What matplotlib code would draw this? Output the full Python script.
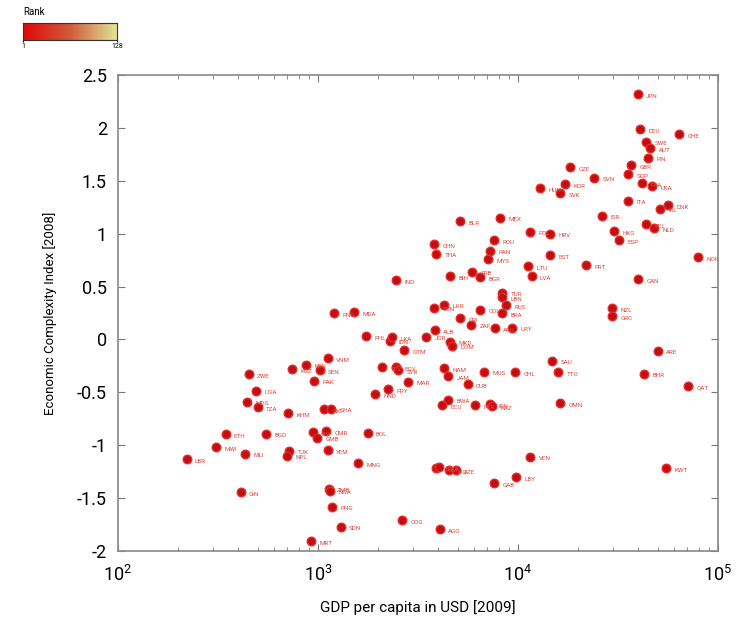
import matplotlib
matplotlib.use("Agg")
import matplotlib.pyplot as plt
import numpy as np
from matplotlib.colors import LinearSegmentedColormap
from matplotlib.ticker import FixedLocator, FixedFormatter, LogLocator, NullFormatter

plt.rcParams['font.family'] = ['Roboto', 'DejaVu Sans']
plt.rcParams['axes.unicode_minus'] = False
plt.rcParams['mathtext.fontset'] = 'custom'
plt.rcParams['mathtext.rm'] = 'Roboto'

countries = ["JPN","DEU","CHE","SWE","AUT","FIN","GBR","SGP","CZE","SVN","KOR","HUN","SVK","FRA","USA",
             "ITA","DNK","IRL","ISR","BEL","NLD","POL","HRV","HKG","ESP","EST","NOR","LTU","LVA","PRT",
             "CAN","BLR","MEX","ROU","CHN","THA","PAN","MYS","BIH","SRB","BGR","IND","TUR","LBN","RUS",
             "BRA","COL","UKR","TUN","PNG","MDA","CRI","ZAF","ARG","URY","PHL","IDN","LKA","JOR","ALB",
             "MKD","DOM","GTM","SLV","EGY","SYR","MAR","PRY","HND","VNM","KEN","SEN","KGZ","ZWE","PAK",
             "UGA","MDG","TZA","KHM","NIC","GHA","ETH","BGD","CIV","GMB","CMR","BOL","MWI","MLI","TJK",
             "NPL","YEM","MNG","LBR","GIN","ZMB","NGA","PNG","SDN","MRT","NAM","JAM","CUB","MUS","CHL",
             "SAU","TTO","BWA","ECU","PER","IRN","KAZ","OMN","VEN","LBY","TKM","DZA","IRQ","AZE","GAB",
             "COG","AGO","NZL","GRC","ARE","BHR","QAT","KWT"]

gdp = [39800,40800,64000,43700,45800,44700,36700,35500,18200,24000,17200,12900,16300,41700,46800,
       35500,56200,51300,26300,43700,47900,11500,14500,30200,32000,14500,79400,11200,11700,21900,
       39800,5130,8130,7590,3800,3890,7240,7080,4570,5890,6460,2450,8320,8320,8710,
       8320,6460,4270,3800,1200,1510,5130,5820,7670,9330,1740,2290,2350,3470,3850,
       4570,4680,2690,2090,2450,2510,2820,2240,1930,1120,870,1020,740,450,960,
       490,440,500,710,1070,1160,345,550,940,990,1100,1770,310,430,720,
       700,1120,1590,220,410,1130,1150,1180,1300,920,4270,4470,5600,6760,9660,
       14800,15900,4470,4170,6100,7240,7410,16300,11500,9770,3890,4030,4520,4900,7590,
       2630,4070,29500,29500,50100,42700,70800,54900]

eci = [2.32,1.99,1.94,1.87,1.81,1.72,1.645,1.56,1.63,1.53,1.47,1.43,1.38,1.475,1.45,
       1.31,1.27,1.235,1.17,1.09,1.05,1.02,1.00,1.025,0.94,0.795,0.78,0.69,0.60,0.70,
       0.57,1.12,1.15,0.94,0.90,0.81,0.84,0.76,0.60,0.64,0.59,0.56,0.44,0.40,0.325,
       0.25,0.28,0.33,0.30,0.25,0.26,0.20,0.14,0.105,0.11,0.03,-0.01,0.02,0.025,0.085,
       -0.02,-0.06,-0.10,-0.265,-0.26,-0.29,-0.40,-0.47,-0.52,-0.18,-0.24,-0.29,-0.28,-0.33,-0.39,
       -0.485,-0.59,-0.64,-0.70,-0.66,-0.655,-0.895,-0.89,-0.875,-0.93,-0.87,-0.88,-1.02,-1.08,-1.05,
       -1.10,-1.045,-1.17,-1.13,-1.445,-1.41,-1.43,-1.58,-1.77,-1.905,-0.27,-0.345,-0.425,-0.305,-0.31,
       -0.20,-0.31,-0.57,-0.62,-0.62,-0.615,-0.63,-0.605,-1.11,-1.30,-1.215,-1.21,-1.235,-1.235,-1.36,
       -1.71,-1.795,0.295,0.22,-0.107,-0.325,-0.44,-1.22]

y_ticks = [-2, -1.5, -1, -0.5, 0, 0.5, 1, 1.5, 2, 2.5]
y_tick_labels = ["-2", "-1.5", "-1", "-0.5", "0", "0.5", "1", "1.5", "2", "2.5"]
x_ticks = [1e2, 1e3, 1e4, 1e5]
x_tick_labels = [r"$\mathregular{10^2}$", r"$\mathregular{10^3}$", r"$\mathregular{10^4}$", r"$\mathregular{10^5}$"]

fig = plt.figure(figsize=(7.39, 6.2), dpi=100)
ax = fig.add_axes([0.1597, 0.1113, 0.8119, 0.7677])

ax.scatter(gdp, eci, s=38, facecolor='#be0f18', edgecolor='#ec2a22', linewidth=1.0, zorder=3)
for c, xv, yv in zip(countries, gdp, eci):
    ax.annotate(c, (xv, yv), xytext=(6, -1.5), textcoords='offset points',
                fontsize=4.5, color='#e0463c', va='center', ha='left', zorder=4)

ax.set_xscale('log')
ax.set_xlim(1e2, 1e5)
ax.set_ylim(-2, 2.5)
ax.xaxis.set_major_locator(FixedLocator(x_ticks))
ax.xaxis.set_major_formatter(FixedFormatter(x_tick_labels))
ax.xaxis.set_minor_locator(LogLocator(base=10, subs=np.arange(2, 10)))
ax.xaxis.set_minor_formatter(NullFormatter())
ax.yaxis.set_major_locator(FixedLocator(y_ticks))
ax.yaxis.set_major_formatter(FixedFormatter(y_tick_labels))

ax.tick_params(which='both', direction='in', top=True, right=True, color='#777777')
ax.tick_params(which='major', length=5, labelsize=13)
ax.tick_params(axis='y', which='major', pad=8)
ax.tick_params(axis='x', which='major', pad=10)
ax.tick_params(which='minor', length=3)
for s in ax.spines.values():
    s.set_color('#888888')
    s.set_linewidth(1.2)

ax.set_xlabel("GDP per capita in USD [2009]", fontsize=11, labelpad=11)
ax.set_ylabel("Economic Complexity Index [2008]", fontsize=9.5, labelpad=14)

# Rank colour bar
cmap = LinearSegmentedColormap.from_list('rank', ['#e00808', '#d05a3a', '#dfe598'])
cax = fig.add_axes([0.0311, 0.9355, 0.127, 0.0274])
grad = np.linspace(1, 128, 256).reshape(1, -1)
cax.imshow(grad, aspect='auto', cmap=cmap, extent=[1, 128, 0, 1])
cax.set_yticks([])
cax.set_xticks([1, 128])
cax.set_xticklabels(["1", "128"], fontsize=5)
cax.tick_params(axis='x', length=1.5, pad=1)
for s in cax.spines.values():
    s.set_color('#333333')
    s.set_linewidth(0.8)
fig.text(0.0311, 0.972, "Rank", fontsize=7, ha='left', va='bottom')

fig.savefig("out.png", dpi=100, facecolor='white')
